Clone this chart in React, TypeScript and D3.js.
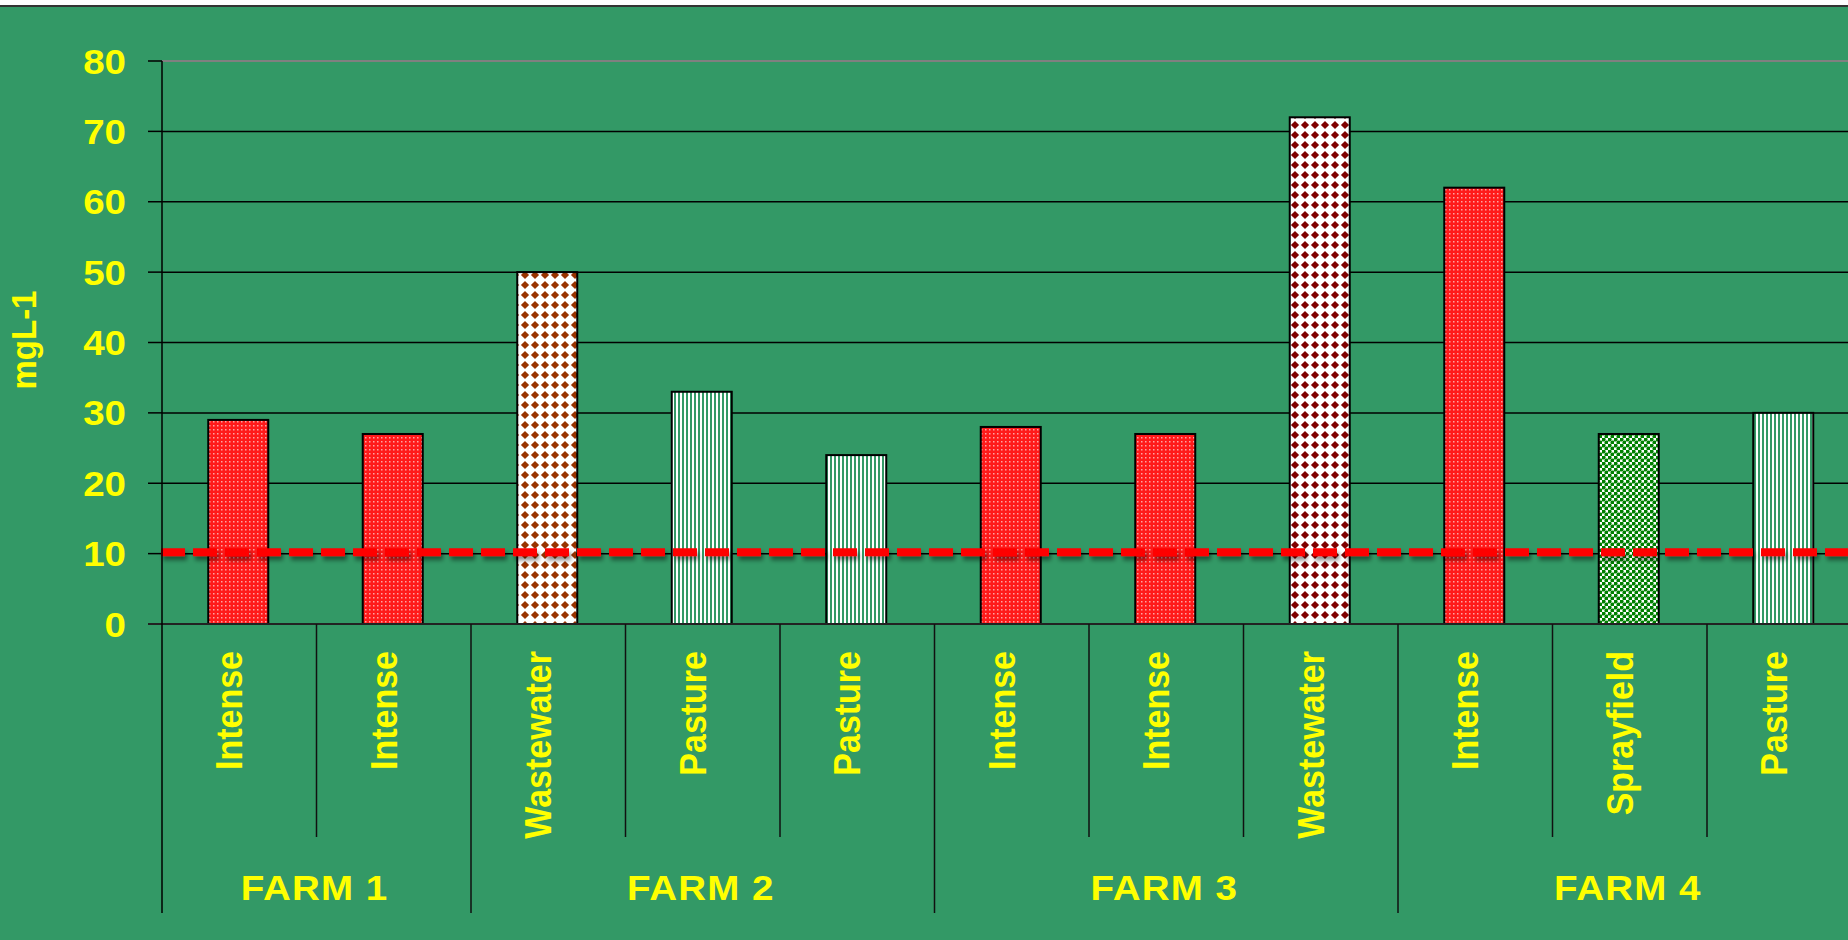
import React from "react";
import * as d3 from "d3";

// Nitrate concentration (mg/L) by land use at four farms
const farms = ["FARM 1", "FARM 2", "FARM 3", "FARM 4"];
const sites = [
  "Intense", "Intense",
  "Wastewater", "Pasture", "Pasture",
  "Intense", "Intense", "Wastewater",
  "Intense", "Sprayfield", "Pasture",
];
const siteFarm = [0, 0, 1, 1, 1, 2, 2, 2, 3, 3, 3];
const values = [29, 27, 50, 33, 24, 28, 27, 72, 62, 27, 30];
const yTicks = [0, 10, 20, 30, 40, 50, 60, 70, 80];
const limitValue = 10.2;

const W = 1848;
const H = 940;
const BG = "#339966";
const YELLOW = "#FFFF00";
const FONT = "'Liberation Sans', Arial, sans-serif";

const plotLeft = 162;
const bandW = 154.5;
const plotTop = 61;
const plotBottom = 624;
const sepInnerBottom = 837;
const sepGroupBottom = 913;

function patternFor(site: string, farm: number): string {
  if (site === "Intense") return "url(#pIntense)";
  if (site === "Pasture") return "url(#pPasture)";
  if (site === "Sprayfield") return "url(#pSpray)";
  return farm === 1 ? "url(#pWasteBrown)" : "url(#pWasteMaroon)";
}

export default function App() {
  const idx = sites.map((_, i) => i);
  const x = d3
    .scaleBand<number>()
    .domain(idx)
    .range([plotLeft, plotLeft + bandW * sites.length])
    .paddingInner(0)
    .paddingOuter(0);
  const y = d3.scaleLinear().domain([0, 80]).range([plotBottom, plotTop]);
  const barW = 60;

  // group extents by farm
  const groups = farms.map((name, g) => {
    const members = idx.filter((i) => siteFarm[i] === g);
    const start = x(members[0])!;
    const end = x(members[members.length - 1])! + x.bandwidth();
    return { name, start, end };
  });

  const diamond = (c: string) => (
    <>
      <rect width={10} height={10} fill="#ffffff" />
      <path d="M5,0.9 L9.1,5 L5,9.1 L0.9,5 Z" fill={c} />
    </>
  );

  const yLimit = y(limitValue);

  return (
    <svg
      width={W}
      height={H}
      style={{ position: "absolute", left: 0, top: 0, display: "block" }}
      fontFamily={FONT}
    >
      <defs>
        <pattern id="pIntense" width={4} height={4} patternUnits="userSpaceOnUse">
          <rect width={4} height={4} fill="#ff1a1a" />
          <rect x={1} y={1} width={1.5} height={1.5} fill="#ffffff" opacity={0.6} />
        </pattern>
        <pattern id="pPasture" width={4} height={4} patternUnits="userSpaceOnUse">
          <rect width={4} height={4} fill={BG} />
          <rect x={0} y={0} width={2} height={4} fill="#ffffff" />
        </pattern>
        <pattern id="pSpray" width={6} height={6} patternUnits="userSpaceOnUse">
          <rect width={6} height={6} fill="#ffffff" />
          <circle cx={1.5} cy={1.5} r={2.1} fill="#008000" />
          <circle cx={4.5} cy={4.5} r={2.1} fill="#008000" />
          <circle cx={7.5} cy={-1.5} r={2.1} fill="#008000" />
          <circle cx={-1.5} cy={7.5} r={2.1} fill="#008000" />
        </pattern>
        <pattern id="pWasteBrown" width={10} height={10} patternUnits="userSpaceOnUse">
          {diamond("#993300")}
        </pattern>
        <pattern id="pWasteMaroon" width={10} height={10} patternUnits="userSpaceOnUse">
          {diamond("#800000")}
        </pattern>
        <filter
          id="lineShadow"
          filterUnits="userSpaceOnUse"
          x={0}
          y={yLimit - 30}
          width={W}
          height={60}
        >
          <feDropShadow dx={2} dy={4} stdDeviation={2} floodColor="#000" floodOpacity={0.45} />
        </filter>
      </defs>

      {/* background */}
      <rect x={0} y={0} width={W} height={H} fill={BG} />
      <rect x={0} y={0} width={W} height={5} fill="#ffffff" />
      <line x1={0} x2={W} y1={6} y2={6} stroke="#333" strokeWidth={2} />

      {/* horizontal grid lines */}
      {yTicks.map((t) =>
        t === 0 ? null : (
          <line
            key={"g" + t}
            x1={plotLeft}
            x2={W}
            y1={y(t)}
            y2={y(t)}
            stroke={t === 80 ? "#808080" : "#000"}
            strokeWidth={t === 80 ? 2 : 1.5}
          />
        )
      )}

      {/* y ticks and labels */}
      {yTicks.map((t) => (
        <g key={"t" + t}>
          <line x1={plotLeft - 14} x2={plotLeft} y1={y(t)} y2={y(t)} stroke="#000" strokeWidth={1.5} />
          <text
            transform={`translate(126,${y(t)}) scale(1.1,1)`}
            dy="0.36em"
            textAnchor="end"
            fill={YELLOW}
            fontWeight="bold"
            fontSize={35}
          >
            {t}
          </text>
        </g>
      ))}

      {/* y axis title */}
      <text
        transform={`translate(36,340) scale(1.08,1) rotate(-90)`}
        textAnchor="middle"
        fill={YELLOW}
        fontWeight="bold"
        fontSize={33}
      >
        mgL-1
      </text>

      {/* bars */}
      {values.map((v, i) => {
        const cx = x(i)! + x.bandwidth() / 2 - 1;
        return (
          <rect
            key={"b" + i}
            x={cx - barW / 2}
            y={y(v)}
            width={barW}
            height={y(0) - y(v)}
            fill={patternFor(sites[i], siteFarm[i])}
            stroke="#000"
            strokeWidth={2}
          />
        );
      })}

      {/* limit line */}
      <line
        x1={plotLeft - 1}
        x2={W}
        y1={yLimit}
        y2={yLimit}
        stroke="#ff0000"
        strokeWidth={8}
        strokeDasharray="24 8"
        filter="url(#lineShadow)"
      />

      {/* category axis */}
      <line x1={plotLeft - 14} x2={W} y1={plotBottom} y2={plotBottom} stroke="#222" strokeWidth={2} />
      <line x1={plotLeft} x2={plotLeft} y1={plotTop} y2={sepGroupBottom} stroke="#000" strokeWidth={1.5} />

      {/* category separators */}
      {idx.slice(1).map((i) => {
        const xx = x(i)!;
        const isGroup = siteFarm[i] !== siteFarm[i - 1];
        return (
          <line
            key={"s" + i}
            x1={xx}
            x2={xx}
            y1={plotBottom}
            y2={isGroup ? sepGroupBottom : sepInnerBottom}
            stroke="#111"
            strokeWidth={1.5}
          />
        );
      })}

      {/* category labels */}
      {sites.map((s, i) => {
        const cx = x(i)! + x.bandwidth() / 2 + 3;
        return (
          <text
            key={"l" + i}
            transform={`translate(${cx},651) scale(1.08,1) rotate(-90)`}
            textAnchor="end"
            fill={YELLOW}
            fontWeight="bold"
            fontSize={34}
          >
            {s}
          </text>
        );
      })}

      {/* farm labels */}
      {groups.map((g) => (
        <text
          key={g.name}
          transform={`translate(${(g.start + g.end) / 2 - 2},900) scale(1.1,1)`}
          textAnchor="middle"
          fill={YELLOW}
          fontWeight="bold"
          fontSize={35}
          letterSpacing={1}
        >
          {g.name}
        </text>
      ))}
    </svg>
  );
}
